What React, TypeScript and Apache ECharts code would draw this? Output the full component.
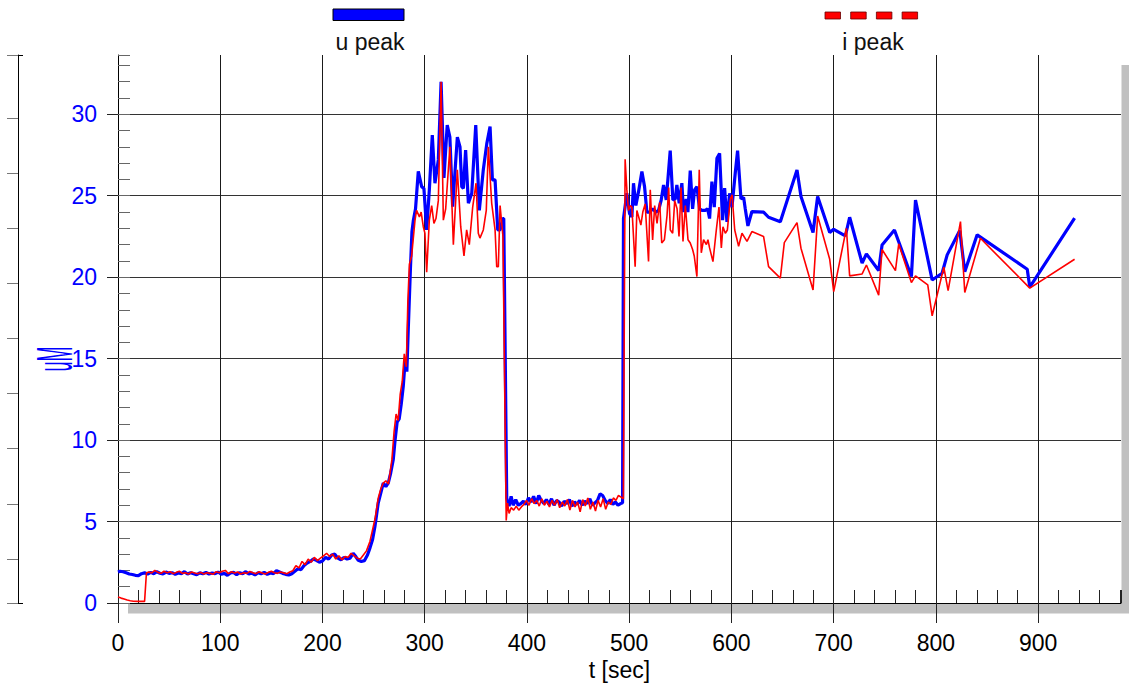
import React, { useEffect, useRef } from "react";
import * as echarts from "echarts";

// ---- axis values ----
const X_MAX = 981;
const Y_MAX = 33.64;
const xTickValues = [0, 100, 200, 300, 400, 500, 600, 700, 800, 900];
const yTickValues = [0, 5, 10, 15, 20, 25, 30];
const outerTickValues = [0, 2.7, 6.09, 9.47, 12.86, 16.24, 19.62, 23.0, 26.39, 29.77, 33.64];
const outerCapValues = [0, 33.64];

const seriesNames = ["u peak", "i peak"];

// ---- u peak [t sec, uM] ----
const uPeak: [number, number][] = [
  [0, 1.9], [2, 1.95], [5, 1.92], [8, 1.85], [11, 1.78], [14, 1.75], [17, 1.7], [20, 1.68],
  [23, 1.8], [26, 1.85], [29, 1.78], [32, 1.88], [35, 1.8], [38, 1.92], [41, 1.83], [44, 1.78],
  [47, 1.9], [50, 1.82], [53, 1.86], [56, 1.76], [59, 1.84], [62, 1.8], [65, 1.92], [68, 1.78],
  [71, 1.86], [74, 1.8], [77, 1.74], [80, 1.85], [83, 1.8], [86, 1.88], [89, 1.78], [92, 1.84],
  [95, 1.8], [98, 1.9], [101, 1.76], [104, 1.82], [107, 1.7], [110, 1.84], [113, 1.88], [116, 1.74],
  [119, 1.86], [122, 1.8], [125, 1.92], [128, 1.78], [131, 1.84], [134, 1.72], [137, 1.86], [140, 1.8],
  [143, 1.88], [146, 1.76], [149, 1.84], [152, 1.8], [155, 1.98], [158, 1.9], [161, 1.82], [164, 1.76],
  [167, 1.72], [170, 1.8], [173, 1.95], [176, 2.1], [179, 2.05], [182, 2.3], [185, 2.45], [188, 2.55],
  [191, 2.7], [194, 2.62], [197, 2.5], [200, 2.58], [203, 2.8], [206, 2.7], [209, 2.95], [212, 3.0],
  [215, 2.75], [218, 2.65], [221, 2.8], [224, 2.7], [227, 2.75], [230, 3.05], [232, 2.9], [235, 2.62],
  [238, 2.55], [241, 2.6], [244, 2.95], [246.4, 3.37], [249, 3.9], [251.3, 4.7], [254.5, 6.13],
  [257.8, 6.95], [259.4, 7.36], [262, 7.15], [264.3, 7.36], [266.7, 7.98], [269.2, 8.79], [271, 10.0],
  [273, 11.1], [275, 11.3], [277, 12.2], [279, 13.3], [281, 15.0], [282.5, 14.2], [284, 17.0],
  [286, 20.5], [287.5, 22.8], [288.9, 23.5], [291, 24.2], [293.7, 26.5], [297, 25.56], [299.2, 25.45],
  [301.9, 22.9], [304.5, 25.36], [307.4, 28.73], [310, 25.77], [313.3, 27.2], [316, 32.0], [318.8, 26.1],
  [322, 29.34], [324.6, 28.6], [327.3, 24.33], [331.9, 28.6], [334.5, 28.0], [336.2, 25.56], [337.8, 25.45],
  [340, 27.8], [342.7, 24.54], [346, 25.15], [349.9, 29.34], [353.4, 24.1], [357.3, 26.6], [360.7, 28.2],
  [363.9, 29.24], [366.2, 25.97], [368.8, 25.97], [371.4, 22.9], [373.7, 22.9], [376.3, 23.6], [377.3, 23.6],
  [380.2, 6.44], [382.5, 5.95], [384.5, 6.55], [386.5, 6.0], [389, 6.35], [391.5, 6.0], [394, 6.1],
  [396.5, 6.25], [399, 6.05], [401.5, 6.45], [404, 6.2], [406.5, 6.55], [409, 6.1], [411.5, 6.6],
  [414, 6.3], [416.5, 6.1], [419, 6.35], [421.5, 6.05], [424, 6.4], [426.5, 6.0], [429, 6.3],
  [431.5, 6.2], [434, 5.95], [436.5, 6.25], [439, 6.1], [441.5, 6.35], [444, 5.95], [446.5, 6.2],
  [449, 6.05], [451.5, 6.3], [454, 6.0], [456.5, 6.25], [459, 6.1], [461.5, 6.4], [464, 6.0],
  [466.5, 6.15], [469, 6.3], [471.5, 6.7], [474, 6.6], [476.5, 6.3], [479, 6.1], [481.5, 6.35],
  [484, 6.05], [486.5, 6.2], [489, 6.0], [491.5, 6.1], [493.5, 6.15], [494.4, 23.6], [497.7, 25.15],
  [500.3, 23.9], [502.6, 23.7], [504.2, 25.77], [506.5, 24.4], [509.1, 25.25], [512.4, 26.48], [515, 25.56],
  [517.3, 24.0], [519.9, 24.0], [522.9, 24.2], [526.1, 24.0], [528.7, 24.1], [531.3, 24.74], [533.6, 25.66],
  [536.2, 24.74], [537.8, 25.97], [540.1, 27.77], [542.7, 24.74], [545, 24.8], [546.6, 25.66], [548.9, 24.54],
  [551.5, 25.77], [553.1, 24.0], [555.8, 24.8], [557.4, 24.0], [559.7, 26.54], [562, 24.2], [563.9, 25.36],
  [566.2, 25.56], [568.8, 24.2], [571.1, 24.1], [574.4, 24.1], [576.7, 24.2], [578.6, 23.6], [580.9, 25.87],
  [583.2, 24.3], [585.8, 27.3], [588.4, 27.6], [591.3, 23.5], [593.3, 25.47], [595.6, 23.4], [598.2, 25.15],
  [600.5, 24.3], [603.7, 26.38], [606, 27.77], [609.3, 24.8], [611.9, 24.9], [613.5, 24.2], [616.1, 23.15],
  [620, 24.03], [631.4, 24.0], [636.3, 23.68], [647.8, 23.4], [664.1, 26.58], [668, 24.95], [679.8, 22.74],
  [684.3, 24.95], [696.1, 22.74], [700, 22.94], [711.4, 22.53], [715.6, 23.68], [727.8, 20.86], [732, 21.43],
  [744, 20.41], [747.3, 21.98], [759.4, 22.9], [776, 20.04], [780, 24.74], [796.3, 19.83], [806, 20.24],
  [811, 21.37], [823.3, 22.86], [828.2, 20.34], [840.3, 22.6], [889.3, 20.49], [891.8, 19.39], [935.6, 23.62],
];

// ---- i peak [t sec, uM] ----
const iPeak: [number, number][] = [
  [0, 0.37], [3, 0.3], [6, 0.25], [9, 0.18], [12, 0.14], [15, 0.11], [19.6, 0.1], [26, 0.1],
  [27.8, 1.84], [30, 1.9], [33, 1.85], [36, 2.0], [39, 1.88], [42, 1.82], [45, 1.95], [48, 1.85],
  [51, 1.92], [54, 1.8], [57, 1.88], [60, 1.95], [63, 1.82], [66, 1.86], [69, 1.78], [72, 1.9],
  [75, 1.84], [78, 1.8], [81, 1.88], [84, 1.78], [87, 1.86], [90, 1.82], [93, 1.76], [96, 1.92],
  [99, 1.86], [102, 1.95], [105, 2.0], [108, 1.8], [111, 1.92], [114, 1.84], [117, 1.9], [120, 1.78],
  [123, 1.86], [126, 1.82], [129, 1.94], [132, 1.86], [135, 1.8], [138, 1.92], [141, 1.84], [144, 1.78],
  [147, 1.88], [150, 1.95], [153, 1.86], [156, 1.82], [159, 1.9], [162, 1.85], [165, 1.8], [168, 1.9],
  [171, 1.98], [174, 2.3], [177, 2.15], [180, 2.55], [183, 2.35], [186, 2.7], [189, 2.5], [192, 2.8],
  [195, 2.6], [198, 2.75], [201, 2.9], [204, 3.05], [207, 2.85], [210, 3.0], [213, 2.7], [216, 2.9],
  [219, 2.65], [222, 2.85], [225, 2.8], [228, 3.05], [231, 2.9], [234, 2.75], [237, 2.7], [240, 2.95],
  [243, 3.2], [246.4, 3.78], [249, 4.5], [251.5, 5.2], [254.5, 6.44], [257, 7.0], [259.4, 7.36], [262, 7.5],
  [264.5, 7.3], [267.9, 8.8], [270, 10.5], [272, 11.6], [274, 11.2], [276, 12.8], [278, 13.6], [280, 15.3],
  [282, 14.5], [283.5, 18.5], [285, 20.8], [287.2, 21.3], [290.5, 23.5], [292, 24.1], [294.8, 23.7],
  [296.5, 24.0], [298.6, 23.1], [300.2, 22.7], [301.9, 20.3], [304.5, 23.5], [306.8, 24.4], [309, 23.3],
  [311, 23.6], [313.3, 24.7], [316, 32.0], [318.2, 23.5], [320.5, 24.2], [324.6, 28.0], [328, 22.0],
  [331.9, 26.6], [335.2, 23.1], [338.4, 21.3], [341, 22.9], [343.6, 22.0], [346.9, 24.3], [350.2, 25.77],
  [352.4, 22.7], [354, 22.4], [357.3, 22.9], [360.2, 24.1], [362.2, 28.0], [365.5, 24.54], [368.8, 22.9],
  [370.4, 20.65], [372, 20.65], [373.7, 24.4], [376.5, 22.5], [379.7, 5.07], [381, 6.13], [382.5, 5.5],
  [384.5, 5.85], [387, 5.7], [389.5, 5.95], [392, 5.7], [394.5, 5.9], [397, 6.05], [399.5, 6.3], [402, 6.0],
  [404.5, 6.4], [407, 6.1], [409.5, 6.3], [412, 5.95], [414.5, 6.4], [417, 6.0], [419.5, 6.25], [422, 5.9],
  [424.5, 6.3], [427, 6.0], [429.5, 6.35], [432, 5.85], [434.5, 6.2], [437, 5.95], [439.5, 6.35], [442, 5.7],
  [444.5, 6.3], [447, 5.9], [449.5, 6.2], [452, 5.6], [454.5, 6.35], [457, 5.95], [459.5, 6.45], [462, 5.75],
  [464.5, 6.2], [467, 5.65], [469.5, 6.3], [472, 5.9], [474.5, 6.4], [477, 5.75], [479.5, 6.2], [482, 6.05],
  [484.5, 6.45], [487, 6.3], [489.5, 6.6], [492, 6.5], [494.3, 6.4], [496, 27.24], [497.7, 25.36],
  [499.3, 24.1], [501, 24.4], [502.6, 24.3], [505.8, 20.65], [507.5, 24.1], [509.7, 23.6], [511.4, 23.2],
  [513.3, 24.0], [515.6, 24.5], [518.9, 20.96], [520.6, 25.36], [522.9, 22.29], [524.9, 24.4], [527.2, 23.3],
  [529.8, 24.6], [531.8, 22.1], [534.4, 22.3], [537, 23.8], [538.6, 25.5], [540.2, 22.9], [542.5, 22.7],
  [544.5, 24.7], [546.8, 24.2], [548.7, 22.5], [550.7, 25.5], [552.6, 22.2], [554.9, 24.4], [557.5, 22.3],
  [559.7, 22.1], [562, 21.7], [563.6, 21.3], [566.2, 20.04], [568.5, 26.6], [570.5, 21.5], [572.7, 22.3],
  [575.5, 22.0], [577, 22.3], [578.6, 21.8], [581.9, 20.96], [585.2, 22.9], [587.8, 24.3], [590.1, 21.8],
  [591.7, 23.1], [594, 22.7], [596, 22.9], [598.9, 24.8], [600.6, 25.05], [603.2, 22.9], [607, 21.9],
  [610.3, 22.7], [615.2, 22.2], [620, 22.8], [631.4, 22.5], [636.3, 20.65], [647.8, 19.94], [651.7, 22.12],
  [664.1, 23.35], [668, 21.78], [679.8, 19.22], [684.3, 23.76], [696.1, 21.1], [700, 19.12], [712.4, 23.0],
  [715.6, 20.08], [727.8, 20.2], [732, 20.75], [744, 18.9], [747.3, 21.7], [760.4, 20.4], [763.6, 22.04],
  [776, 19.67], [780, 20.08], [792, 19.53], [796.3, 17.63], [807.7, 20.61], [811.9, 19.18], [824, 23.41],
  [828.2, 19.06], [843.5, 22.39], [891.8, 19.33], [935.6, 21.1],
];

const FONT = "'Liberation Sans', Arial, sans-serif";

export default function App() {
  const ref = useRef<HTMLDivElement>(null);

  useEffect(() => {
    document.body.style.margin = "0";
    if (!ref.current) return;
    const chart = echarts.init(ref.current, undefined, { renderer: "svg" });

    const dashXs = [825, 850.7, 876.4, 902.1];

    const option: any = {
      animation: false,
      backgroundColor: "#ffffff",
      textStyle: { fontFamily: FONT },
      grid: { left: 118, top: 55, right: 8, bottom: 84, containLabel: false },
      xAxis: [
        {
          type: "value",
          position: "bottom",
          min: 0,
          max: X_MAX,
          interval: 100,
          axisLine: { show: true, lineStyle: { color: "#000", width: 1 } },
          axisTick: { show: true, length: 20, customValues: xTickValues, lineStyle: { color: "#222", width: 1 } },
          axisLabel: { show: true, customValues: xTickValues, fontSize: 23, color: "#000", margin: 28, fontFamily: FONT },
          splitLine: { show: true, lineStyle: { color: "#1a1a1a", width: 1 } },
          name: "t [sec]",
          nameLocation: "middle",
          nameGap: 55,
          nameTextStyle: { fontSize: 23, color: "#000", fontFamily: FONT },
        },
        {
          type: "value",
          position: "bottom",
          min: 0,
          max: X_MAX,
          interval: 20,
          axisLine: { show: false },
          axisTick: { show: true, inside: true, length: 13, lineStyle: { color: "#222", width: 1 } },
          axisLabel: { show: false },
          splitLine: { show: false },
        },
      ],
      yAxis: [
        {
          type: "value",
          position: "left",
          min: 0,
          max: Y_MAX,
          interval: 5,
          axisLine: { show: true, lineStyle: { color: "#000", width: 1 } },
          axisTick: { show: true, length: 11, customValues: yTickValues, lineStyle: { color: "#222", width: 1 } },
          axisLabel: { show: true, customValues: yTickValues, fontSize: 23, color: "#0000ff", margin: 21, fontFamily: FONT },
          splitLine: { show: true, lineStyle: { color: "#333", width: 1 } },
        },
        {
          type: "value",
          position: "left",
          min: 0,
          max: Y_MAX,
          interval: 1,
          axisLine: { show: false },
          axisTick: { show: true, inside: true, length: 12, lineStyle: { color: "#666", width: 1 } },
          axisLabel: { show: false },
          splitLine: { show: false },
        },
        {
          type: "value",
          position: "left",
          offset: 100,
          min: 0,
          max: Y_MAX,
          axisLine: { show: true, lineStyle: { color: "#000", width: 1 } },
          axisTick: { show: true, length: 11, customValues: outerTickValues, lineStyle: { color: "#777", width: 1 } },
          axisLabel: { show: false },
          splitLine: { show: false },
        },
        {
          type: "value",
          position: "left",
          offset: 100,
          min: 0,
          max: Y_MAX,
          axisLine: { show: false },
          axisTick: { show: true, inside: true, length: 5, customValues: outerCapValues, lineStyle: { color: "#000", width: 1 } },
          axisLabel: { show: false },
          splitLine: { show: false },
        },
      ],
      graphic: [
        { type: "rect", z: -1, silent: true, shape: { x: 1121.5, y: 65, width: 8, height: 548 }, style: { fill: "#c0c0c0" } },
        { type: "rect", z: -1, silent: true, shape: { x: 128, y: 603.5, width: 1001, height: 10 }, style: { fill: "#c0c0c0" } },
        { type: "rect", shape: { x: 333, y: 9, width: 71, height: 11.5 }, style: { fill: "#0000ff", stroke: "#000", lineWidth: 1 } },
        { type: "text", x: 370, y: 42, style: { text: seriesNames[0], fontSize: 23, fontFamily: FONT, fill: "#111", textAlign: "center", textVerticalAlign: "middle" } },
        ...dashXs.map((x) => ({
          type: "rect",
          shape: { x, y: 12, width: 15.5, height: 7 },
          style: { fill: "#ff0000", stroke: "#600", lineWidth: 0.8 },
        })),
        { type: "text", x: 873, y: 42, style: { text: seriesNames[1], fontSize: 23, fontFamily: FONT, fill: "#111", textAlign: "center", textVerticalAlign: "middle" } },
        {
          type: "text",
          x: 55,
          y: 359,
          rotation: Math.PI / 2,
          scaleX: 0.36,
          scaleY: 1,
          style: { text: "uM", fontSize: 50, fontFamily: FONT, fill: "#0000ff", textAlign: "center", textVerticalAlign: "middle" },
        },
      ],
      series: [
        {
          name: seriesNames[0],
          type: "line",
          xAxisIndex: 0,
          yAxisIndex: 0,
          data: uPeak,
          showSymbol: false,
          symbol: "none",
          lineStyle: { color: "#0000ff", width: 3.2 },
          itemStyle: { color: "#0000ff" },
          z: 2,
        },
        {
          name: seriesNames[1],
          type: "line",
          xAxisIndex: 0,
          yAxisIndex: 0,
          data: iPeak,
          showSymbol: false,
          symbol: "none",
          lineStyle: { color: "#ff0000", width: 1.6 },
          itemStyle: { color: "#ff0000" },
          z: 3,
        },
      ],
    };

    chart.setOption(option);
    return () => {
      chart.dispose();
    };
  }, []);

  return <div ref={ref} style={{ width: 1129, height: 687 }} />;
}
